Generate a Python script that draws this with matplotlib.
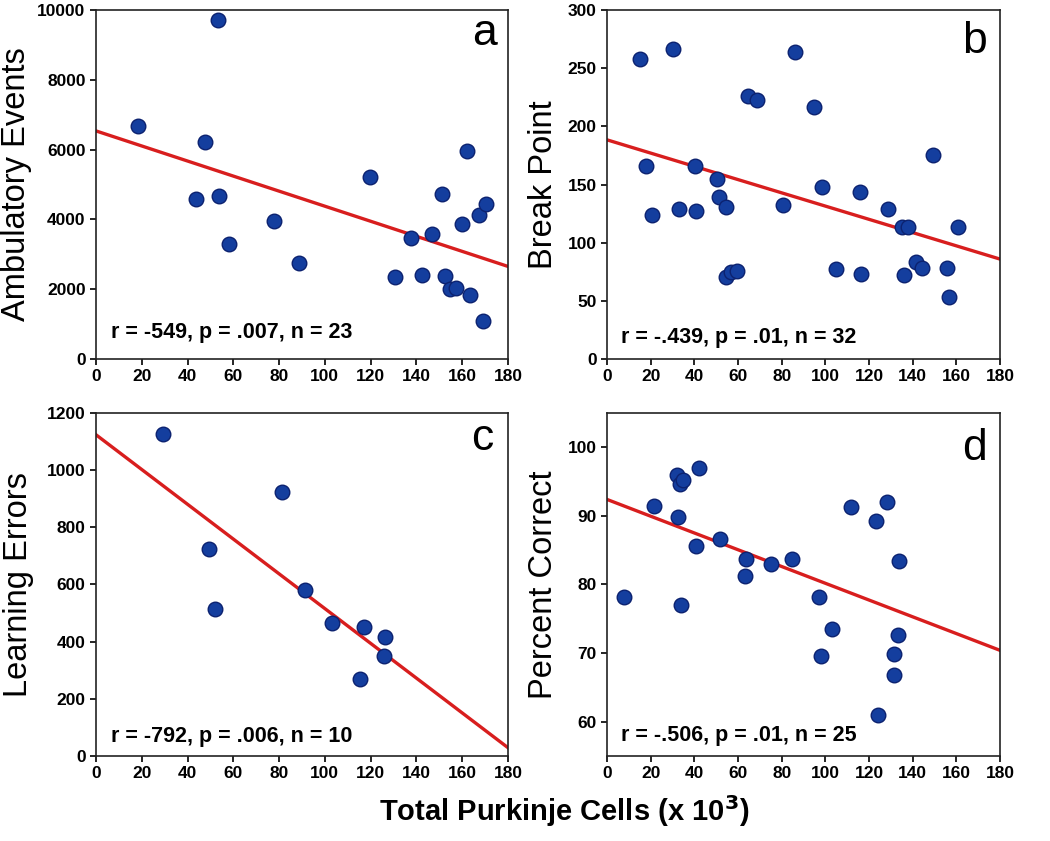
import matplotlib
matplotlib.use("Agg")
import matplotlib.pyplot as plt
import numpy as np

plt.rcParams['font.family'] = ['Liberation Sans', 'DejaVu Sans']

# panel a - ambulatory events
a_x = [18.5, 47.6, 53.4, 43.9, 53.7, 57.9, 77.7, 88.8, 119.6, 130.5, 137.5, 142.5,
       146.8, 151.3, 152.6, 154.5, 157.4, 160.1, 162.1, 163.3, 167.2, 170.5, 169.1]
a_y = [6680, 6230, 9710, 4590, 4680, 3300, 3960, 2750, 5210, 2340, 3460, 2410,
       3580, 4720, 2390, 2000, 2030, 3870, 5960, 1830, 4130, 4450, 1080]
a_fit = [6536, 2653]  # line value at x=0 and x=180

# panel b - break point
b_x = [15.3, 30.0, 86.0, 64.6, 68.8, 94.9, 149.4, 18.0, 40.2, 50.6, 98.3, 115.8,
       20.6, 32.9, 40.6, 51.2, 54.7, 80.4, 128.8, 134.9, 138.0, 160.6, 54.4, 57.0,
       59.6, 104.8, 116.3, 135.8, 141.5, 144.1, 155.6, 156.8]
b_y = [257.7, 266.8, 264.2, 226.2, 222.7, 217.0, 175.5, 165.5, 166.3, 154.9, 147.7, 143.4,
       124.0, 129.1, 127.4, 139.1, 131.1, 132.5, 128.8, 113.1, 113.1, 113.1, 70.1, 74.4,
       75.9, 77.6, 73.3, 72.4, 83.0, 78.2, 78.2, 53.0]
b_fit = [188.4, 85.9]

# panel c - learning errors
c_x = [29.1, 81.1, 49.3, 52.1, 91.2, 103.2, 117.1, 126.2, 125.9, 115.2]
c_y = [1126, 925, 723, 513, 579, 466, 452, 416, 349, 269]
c_fit = [1124, 29]

# panel d - percent correct
d_x = [7.6, 21.4, 32.2, 33.3, 35.0, 42.2, 32.5, 40.9, 51.6, 63.6, 63.4, 75.3, 84.5,
       34.1, 97.2, 103.1, 98.0, 111.7, 123.0, 128.4, 133.7, 133.1, 131.6, 131.6, 123.9]
d_y = [78.2, 91.4, 96.0, 94.6, 95.3, 97.0, 89.8, 85.6, 86.6, 83.7, 81.2, 83.0, 83.7,
       77.0, 78.2, 73.5, 69.6, 91.3, 89.3, 92.0, 83.4, 72.7, 69.8, 66.8, 61.0]
d_fit = [92.4, 70.4]

panels = [
    dict(x=a_x, y=a_y, fit=a_fit, ylab='Ambulatory Events', letter='a',
         note='r = -549, p = .007, n = 23', ylim=(0, 10000), yt=np.arange(0, 10001, 2000)),
    dict(x=b_x, y=b_y, fit=b_fit, ylab='Break Point', letter='b',
         note='r = -.439, p = .01, n = 32', ylim=(0, 300), yt=np.arange(0, 301, 50)),
    dict(x=c_x, y=c_y, fit=c_fit, ylab='Learning Errors', letter='c',
         note='r = -792, p = .006, n = 10', ylim=(0, 1200), yt=np.arange(0, 1201, 200)),
    dict(x=d_x, y=d_y, fit=d_fit, ylab='Percent Correct', letter='d',
         note='r = -.506, p = .01, n = 25', ylim=(55, 105), yt=np.arange(60, 101, 10)),
]

# axes rectangles in figure fraction
rects = [[0.0914, 0.5731, 0.3924, 0.415],
         [0.5781, 0.5731, 0.3743, 0.415],
         [0.0914, 0.1011, 0.3924, 0.4078],
         [0.5781, 0.1011, 0.3743, 0.4078]]
label_x = [-0.172, -0.14, -0.167, -0.14]
note_y = [0.06, 0.045, 0.042, 0.045]
letter_pos = [(0.973, 0.90), (0.967, 0.877), (0.964, 0.892), (0.967, 0.863)]

fig = plt.figure(figsize=(10.5, 8.41), dpi=100)

for i, p in enumerate(panels):
    ax = fig.add_axes(rects[i])
    xs = np.array([0, 180])
    ax.plot(xs, p['fit'], color='#d81e1e', lw=2.4, zorder=2)
    ax.scatter(p['x'], p['y'], s=110, facecolor='#143e9e', edgecolor='#0c2270',
               linewidth=1, zorder=3)
    ax.set_xlim(0, 180)
    ax.set_ylim(*p['ylim'])
    ax.set_xticks(np.arange(0, 181, 20))
    ax.set_yticks(p['yt'])
    ax.tick_params(direction='out', length=4, width=1.2, labelsize=12.5)
    for lab in ax.get_xticklabels() + ax.get_yticklabels():
        lab.set_fontweight('bold')
    for sp in ax.spines.values():
        sp.set_linewidth(1.2)
        sp.set_color('#222222')
    ax.text(label_x[i], 0.5, p['ylab'], transform=ax.transAxes, rotation=90,
            rotation_mode='anchor', ha='center', va='baseline', fontsize=23.5)
    ax.text(0.036, note_y[i], p['note'], transform=ax.transAxes, fontsize=15.5,
            fontweight='bold', ha='left', va='baseline')
    ax.text(letter_pos[i][0], letter_pos[i][1], p['letter'], transform=ax.transAxes,
            fontsize=32, ha='right', va='baseline')

fig.text(0.537, 0.024, r'Total Purkinje Cells (x 10$^\mathbf{3}$)', ha='center',
         va='baseline', fontsize=21, fontweight='bold')

fig.savefig('out.png', dpi=100)
